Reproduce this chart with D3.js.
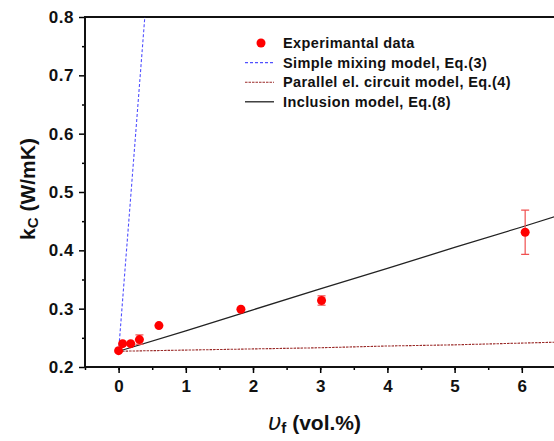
<!DOCTYPE html>
<html>
<head>
<meta charset="utf-8">
<script src="https://cdn.jsdelivr.net/npm/d3@7"></script>
<style>
  body { margin: 0; background: #fff; }
  svg { display: block; font-family: "Liberation Sans", Arial, sans-serif; }
</style>
</head>
<body>
<svg id="chart" width="554" height="441"></svg>
<script>
// experimental data, volume fraction (vol.%) vs k_C (W/mK)
const expPhi = [0, 0.06, 0.18, 0.31, 0.6, 1.82, 3.02, 6.05];
const expK = [0.228, 0.240, 0.240, 0.247, 0.271, 0.299, 0.314, 0.431];
const expErr = [0, 0, 0, 0.008, 0, 0, 0.008, 0.038];

// model curves
const mixPhi = [0, 0.39];
const mixK = [0.227, 0.8];
const parPhi = [0, 1, 2, 3, 4, 5, 6, 6.5];
const parK = [0.227, 0.229, 0.231, 0.233, 0.236, 0.238, 0.241, 0.2425];
const incPhi = [0, 1, 2, 3, 4, 5, 6, 6.5];
const incK = [0.227, 0.262, 0.298, 0.334, 0.369, 0.405, 0.440, 0.458];

const xTicks = [0, 1, 2, 3, 4, 5, 6];
const yTicks = [0.2, 0.3, 0.4, 0.5, 0.6, 0.7, 0.8];

const legendItems = [
  { label: "Experimantal data", type: "dot" },
  { label: "Simple mixing model, Eq.(3)", type: "line", color: "#5050ff", dash: "3,2", width: 1.1 },
  { label: "Parallel el. circuit model, Eq.(4)", type: "line", color: "#9a2a28", dash: "2.5,1", width: 1.1 },
  { label: "Inclusion model, Eq.(8)", type: "line", color: "#222", dash: null, width: 1.3 }
];

const svg = d3.select("#chart");
const plotLeft = 85, plotTop = 17, plotBottom = 367, plotRight = 85 + 7 * 67.2;

const x = d3.scaleLinear().domain([-0.5, 6.5]).range([plotLeft, plotRight]);
const y = d3.scaleLinear().domain([0.2, 0.8]).range([plotBottom, plotTop]);

svg.append("defs").append("clipPath").attr("id", "plot")
  .append("rect").attr("x", plotLeft).attr("y", plotTop)
  .attr("width", plotRight - plotLeft).attr("height", plotBottom - plotTop);

// minor ticks
svg.append("g")
  .attr("transform", `translate(0,${plotBottom})`)
  .call(d3.axisBottom(x).tickValues(d3.range(-0.5, 6.51, 0.5)).tickSize(3).tickFormat(""))
  .call(g => g.select(".domain").remove())
  .selectAll("line").attr("stroke-width", 1.5);
svg.append("g")
  .attr("transform", `translate(${plotLeft},0)`)
  .call(d3.axisLeft(y).tickValues(d3.range(0.25, 0.8, 0.1)).tickSize(3).tickFormat(""))
  .call(g => g.select(".domain").remove())
  .selectAll("line").attr("stroke-width", 1.5);

// major ticks
const xAxis = svg.append("g")
  .attr("transform", `translate(0,${plotBottom})`)
  .call(d3.axisBottom(x).tickValues(xTicks).tickSize(6).tickPadding(7).tickFormat(d3.format("d")));
xAxis.select(".domain").remove();
xAxis.selectAll("line").attr("stroke-width", 1.5);
xAxis.selectAll("text").attr("font-size", 17).attr("font-weight", "bold")
  .attr("font-family", "Liberation Sans, Arial, sans-serif").attr("fill", "#111");

const yAxis = svg.append("g")
  .attr("transform", `translate(${plotLeft},0)`)
  .call(d3.axisLeft(y).tickValues(yTicks).tickSize(6).tickPadding(5).tickFormat(d3.format(".1f")));
yAxis.select(".domain").remove();
yAxis.selectAll("line").attr("stroke-width", 1.5);
yAxis.selectAll("text").attr("font-size", 17).attr("font-weight", "bold")
  .attr("letter-spacing", 0.5)
  .attr("font-family", "Liberation Sans, Arial, sans-serif").attr("fill", "#111");

// frame
svg.append("line").attr("x1", plotLeft).attr("x2", 560).attr("y1", plotBottom).attr("y2", plotBottom)
  .attr("stroke", "#111").attr("stroke-width", 2);
svg.append("line").attr("x1", plotLeft).attr("x2", 560).attr("y1", plotTop).attr("y2", plotTop)
  .attr("stroke", "#111").attr("stroke-width", 2);
svg.append("line").attr("x1", plotLeft).attr("x2", plotLeft).attr("y1", plotTop - 1).attr("y2", plotBottom + 1)
  .attr("stroke", "#111").attr("stroke-width", 2);

const line = d3.line().x(d => x(d[0])).y(d => y(d[1]));
const plot = svg.append("g").attr("clip-path", "url(#plot)");

plot.append("path").datum(d3.zip(parPhi, parK)).attr("d", line)
  .attr("fill", "none").attr("stroke", "#9a2a28").attr("stroke-width", 1.1).attr("stroke-dasharray", "2.5,1");
plot.append("path").datum(d3.zip(incPhi, incK)).attr("d", line)
  .attr("fill", "none").attr("stroke", "#222").attr("stroke-width", 1.3);
plot.append("path").datum(d3.zip(mixPhi, mixK)).attr("d", line)
  .attr("fill", "none").attr("stroke", "#5050ff").attr("stroke-width", 1.1).attr("stroke-dasharray", "3,2");

// error bars
const pts = expPhi.map((p, i) => ({ p, k: expK[i], e: expErr[i] }));
const eb = plot.selectAll(".err").data(pts.filter(d => d.e > 0)).enter().append("g")
  .attr("stroke", "#f05050").attr("stroke-width", 1.2);
eb.append("line").attr("x1", d => x(d.p)).attr("x2", d => x(d.p))
  .attr("y1", d => y(d.k - d.e)).attr("y2", d => y(d.k + d.e));
eb.append("line").attr("x1", d => x(d.p) - 4).attr("x2", d => x(d.p) + 4)
  .attr("y1", d => y(d.k - d.e)).attr("y2", d => y(d.k - d.e));
eb.append("line").attr("x1", d => x(d.p) - 4).attr("x2", d => x(d.p) + 4)
  .attr("y1", d => y(d.k + d.e)).attr("y2", d => y(d.k + d.e));

plot.selectAll(".pt").data(pts).enter().append("circle")
  .attr("cx", d => x(d.p)).attr("cy", d => y(d.k)).attr("r", 4.5).attr("fill", "#ff0000");

// legend
const lg = svg.append("g").attr("transform", "translate(245,43)");
legendItems.forEach((item, i) => {
  const g = lg.append("g").attr("transform", `translate(0,${i * 19.6})`);
  if (item.type === "dot") {
    g.append("circle").attr("cx", 16).attr("cy", 0).attr("r", 4.5).attr("fill", "#ff0000");
  } else {
    g.append("line").attr("x1", 0).attr("x2", 29).attr("y1", 0).attr("y2", 0)
      .attr("stroke", item.color).attr("stroke-width", item.width)
      .attr("stroke-dasharray", item.dash);
  }
  g.append("text").attr("x", 38).attr("y", 0).attr("dy", "0.36em")
    .attr("font-size", 14.5).attr("letter-spacing", 0.4)
    .attr("font-weight", "bold").attr("fill", "#111").text(item.label);
});

// axis titles
const xt = svg.append("text").attr("x", 268).attr("y", 430)
  .attr("font-size", 21).attr("font-weight", "bold").attr("fill", "#111");
xt.append("tspan").attr("font-size", 23).attr("font-style", "italic")
  .attr("font-family", "DejaVu Sans, sans-serif").attr("font-weight", "normal").text("υ");
xt.append("tspan").attr("font-size", 15).attr("dy", 3).text("f");
xt.append("tspan").attr("dy", -3).text("  (vol.%)");

const yt = svg.append("text").attr("transform", "translate(35,189) rotate(-90)")
  .attr("text-anchor", "middle").attr("font-size", 21).attr("font-weight", "bold").attr("fill", "#111");
yt.append("tspan").text("k");
yt.append("tspan").attr("font-size", 15).attr("dy", 3).text("C");
yt.append("tspan").attr("dy", -3).text(" (W/mK)");
</script>
</body>
</html>
